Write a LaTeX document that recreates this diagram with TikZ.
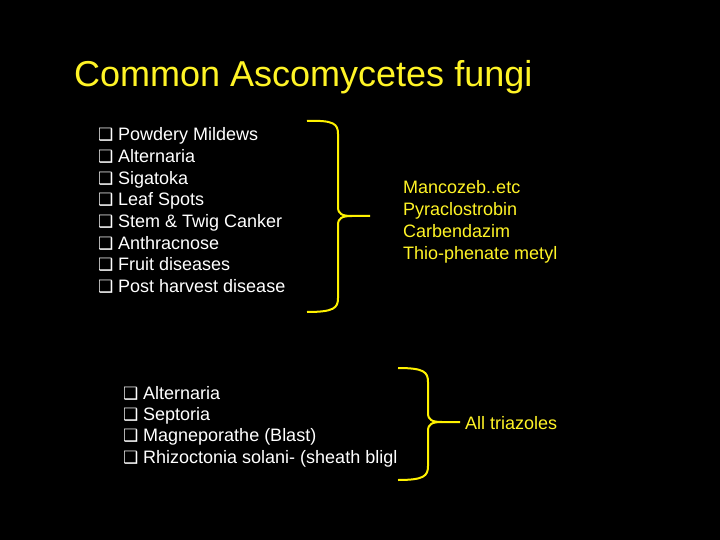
\documentclass[tikz,border=0pt]{standalone}
\usepackage{fontspec}
\setmainfont{Liberation Sans}
\newfontfamily\sym{DejaVu Sans}
\begin{document}
\begin{tikzpicture}[x=1pt,y=-1pt,
  itm/.style={anchor=base west,inner sep=0pt,text=white,font=\fontsize{18}{20}\selectfont},
  rt/.style={anchor=base west,inner sep=0pt,text=yellow!85!white,font=\fontsize{18}{20}\selectfont},
  brace/.style={draw=yellow,line width=2pt}]
\fill[black] (0,0) rectangle (720,540);
\useasboundingbox (0,0) rectangle (720,540);
\node[anchor=base west,inner sep=0pt,text=yellow!85!white,font=\fontsize{36}{40}\selectfont] (title) at (74,87) {Common Ascomycetes fungi};
\newcommand{\bx}{\makebox[20pt][l]{\sym\fontsize{17}{18}\selectfont ❑}}
\foreach \t [count=\i] in {Powdery Mildews,Alternaria,Sigatoka,Leaf Spots,Stem \& Twig Canker,Anthracnose,Fruit diseases,Post harvest disease}
  \node[itm] (a\i) at (98,{141+21.6*(\i-1)}) {\bx\t};
\foreach \t [count=\i] in {Alternaria,Septoria,Magneporathe (Blast),Rhizoctonia solani- (sheath bligl}
  \node[itm] (b\i) at (123,{399+21.4*(\i-1)}) {\bx\t};
\foreach \t [count=\i] in {Mancozeb..etc,Pyraclostrobin,Carbendazim,Thio-phenate metyl}
  \node[rt] (m\i) at (403,{194+21.7*(\i-1)}) {\t};
\node[rt] (tri) at (465,429) {All triazoles};
\draw[brace] (307,121) .. controls (334,120) and (338,124) .. (338,134) -- (338,207) .. controls (338,214) and (342,216) .. (352,216) -- (370,216);
\draw[brace] (307,312) .. controls (334,312) and (338,308) .. (338,298) -- (338,225) .. controls (338,218) and (342,216) .. (352,216);
\draw[brace] (398,368) .. controls (424,368) and (428,372) .. (428,382) -- (428,413) .. controls (428,420) and (432,422) .. (442,422) -- (460,422);
\draw[brace] (398,480) .. controls (424,480) and (428,476) .. (428,466) -- (428,431) .. controls (428,424) and (432,422) .. (442,422);
\end{tikzpicture}
\end{document}
